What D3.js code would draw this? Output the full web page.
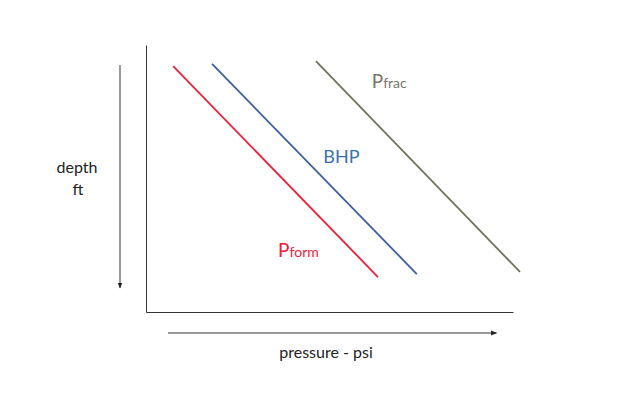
<!DOCTYPE html>
<html lang="en">
<head>
<meta charset="utf-8" />
<title>pressure vs depth</title>
<script src="https://cdn.jsdelivr.net/npm/d3@7"></script>
<style>
    body { margin: 0; background: #fff; }
    text { font-family: Lato, "Open Sans", sans-serif; }
</style>
</head>
<body>
<svg id="chart" width="628" height="396"></svg>
<script>
    // line endpoints, in % of pressure / depth range
    const seriesNames = ['form', 'BHP', 'frac']
    const pressureStart = [7.4, 18.0, 46.3]
    const pressureEnd = [63.2, 73.8, 101.9]
    const depthStart = [7.9, 7.1, 6.0]
    const depthEnd = [86.9, 85.8, 85.0]
    const colors = ['#ee2038', '#3b5f9c', '#6e7258']

    const svg = d3.select('#chart')
    const x = d3.scaleLinear().domain([0, 100]).range([146, 513])
    const y = d3.scaleLinear().domain([0, 100]).range([45, 312])

    svg.append('defs').append('marker')
        .attr('id', 'head')
        .attr('viewBox', '0 0 10 10')
        .attr('refX', 9).attr('refY', 5)
        .attr('markerWidth', 6).attr('markerHeight', 6)
        .attr('orient', 'auto')
        .append('path')
        .attr('d', 'M0,1 L10,5 L0,9 Z')
        .style('fill', '#222')

    // frame: left and bottom axes without ticks
    svg.append('g')
        .attr('transform', `translate(${x(0)},0)`)
        .call(d3.axisLeft(y).tickValues([]).tickSizeOuter(0))
    svg.append('g')
        .attr('transform', `translate(0,${y(100)})`)
        .call(d3.axisBottom(x).tickValues([]).tickSizeOuter(0))
    svg.selectAll('.domain').style('stroke', '#333').style('stroke-width', 1)

    // direction arrows
    svg.append('line')
        .attr('x1', 120).attr('x2', 120)
        .attr('y1', y(7.5)).attr('y2', y(91))
        .style('stroke', '#333').style('stroke-width', 1)
        .attr('marker-end', 'url(#head)')
    svg.append('line')
        .attr('x1', x(6)).attr('x2', x(95.5))
        .attr('y1', 333).attr('y2', 333)
        .style('stroke', '#333').style('stroke-width', 1)
        .attr('marker-end', 'url(#head)')

    const lines = seriesNames.map((name, i) => ({
        name: name,
        color: colors[i],
        pts: [[pressureStart[i], depthStart[i]], [pressureEnd[i], depthEnd[i]]]
    }))

    svg.selectAll('path.series')
        .data(lines)
        .enter()
        .append('path')
        .attr('class', 'series')
        .attr('d', d => d3.line().x(p => x(p[0])).y(p => y(p[1]))(d.pts))
        .style('fill', 'none')
        .style('stroke', d => d.color)
        .style('stroke-width', 1.8)

    // labels
    const pf = svg.append('text').attr('x', x(36)).attr('y', y(79.5))
        .style('fill', '#ee2038').style('font-size', '19px')
    pf.append('tspan').text('P')
    pf.append('tspan').text('form').style('font-size', '14px')

    svg.append('text').attr('x', x(48.3)).attr('y', y(44.2))
        .style('fill', '#3a6fb4').style('font-size', '18px')
        .text('BHP')

    const pr = svg.append('text').attr('x', x(61.5)).attr('y', y(16))
        .style('fill', '#77786a').style('font-size', '19px')
    pr.append('tspan').text('P')
    pr.append('tspan').text('frac').style('font-size', '14px')

    svg.append('text').attr('x', 77).attr('y', 173)
        .attr('text-anchor', 'middle').style('font-size', '16px').style('fill', '#222')
        .text('depth')
    svg.append('text').attr('x', 78).attr('y', 195)
        .attr('text-anchor', 'middle').style('font-size', '16px').style('fill', '#222')
        .text('ft')
    svg.append('text').attr('x', 326).attr('y', 358)
        .attr('text-anchor', 'middle').style('font-size', '16px').style('fill', '#222')
        .text('pressure - psi')
</script>
</body>
</html>
